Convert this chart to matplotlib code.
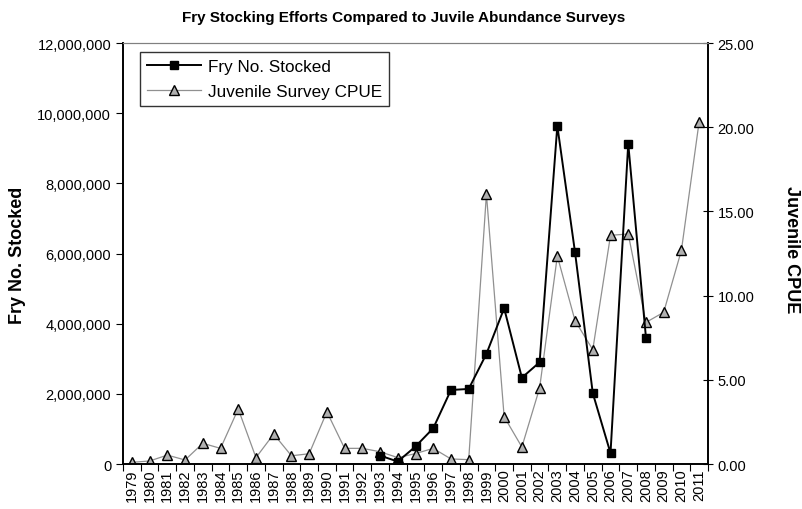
import numpy as np
import matplotlib.pyplot as plt
from matplotlib.ticker import FuncFormatter, FixedLocator

plt.rcParams['font.family'] = ['Liberation Sans', 'DejaVu Sans']

years = list(range(1979, 2012))

# fry stocked, only 1993-2008
fry_years = list(range(1993, 2009))
fry_stocked = [240000, 70000, 500000, 1020000, 2110000, 2140000, 3140000, 4440000,
               2460000, 2900000, 9640000, 6030000, 2020000, 310000, 9130000, 3600000]

cpue = [0.10, 0.18, 0.53, 0.24, 1.23, 0.93, 3.27, 0.38, 1.78, 0.49, 0.61, 3.10,
        0.93, 0.93, 0.73, 0.38, 0.62, 0.93, 0.30, 0.26, 16.03, 2.81, 1.01, 4.51,
        12.35, 8.51, 6.79, 13.58, 13.66, 8.41, 9.01, 12.69, 20.33]

x_all = np.arange(len(years))
x_fry = np.array([years.index(y) for y in fry_years])

fig = plt.figure(figsize=(8.03, 5.10), dpi=100)
ax = fig.add_axes([0.1532, 0.0882, 0.7285, 0.8255])
ax2 = ax.twinx()

l1, = ax.plot(x_fry, fry_stocked, color='black', lw=1.4, marker='s', ms=6,
              mfc='black', mec='black', label='Fry No. Stocked', zorder=3)
l2, = ax2.plot(x_all, cpue, color='#909090', lw=0.9, marker='^', ms=7,
               mfc='#b0b0b0', mec='black', mew=1.0, label='Juvenile Survey CPUE', zorder=2)
ax.set_zorder(ax2.get_zorder() + 1)
ax.patch.set_visible(False)

ax.set_xlim(-0.5, len(years) - 0.5)
ax.set_ylim(0, 12000000)
ax2.set_ylim(0, 25)
ax.set_yticks(np.arange(0, 12000001, 2000000))
ax.yaxis.set_major_formatter(FuncFormatter(lambda v, p: f'{int(v):,}'))
ax2.set_yticks(np.arange(0, 25.01, 5))
ax2.yaxis.set_major_formatter(FuncFormatter(lambda v, p: f'{v:.2f}'))

ax.xaxis.set_major_locator(FixedLocator(np.arange(-0.5, len(years), 1)))
ax.xaxis.set_major_formatter(FuncFormatter(lambda v, p: ''))
ax.xaxis.set_minor_locator(FixedLocator(x_all))
ax.set_xticklabels([str(y) for y in years], minor=True, rotation=90, fontsize=10.5)
ax.tick_params(axis='x', which='minor', length=0, pad=3)
ax.tick_params(axis='x', which='major', direction='out', length=5)
ax.tick_params(axis='y', direction='out', length=5, labelsize=10.5)
ax2.tick_params(axis='y', direction='inout', length=7, labelsize=10.5)

for a in (ax, ax2):
    a.spines['top'].set_color('#808080')
    a.spines['top'].set_linewidth(0.8)
    a.spines['left'].set_linewidth(1.2)
    a.spines['right'].set_linewidth(1.2)
    a.spines['bottom'].set_linewidth(1.2)

fig.text(18 / 803, 1 - 255 / 510, 'Fry No. Stocked', fontsize=13, fontweight='bold',
         rotation=90, ha='center', va='center')
fig.text(792 / 803, 1 - 250 / 510, 'Juvenile CPUE', fontsize=13, fontweight='bold',
         rotation=270, ha='center', va='center')
fig.text(0.503, 1 - 18 / 510, 'Fry Stocking Efforts Compared to Juvile Abundance Surveys',
         fontsize=11, fontweight='bold', ha='center', va='center')

leg = ax.legend(handles=[l1, l2], loc='upper left', bbox_to_anchor=(0.029, 0.979),
                borderaxespad=0, fontsize=12.3, frameon=True, fancybox=False,
                edgecolor='black', borderpad=0.4, handlelength=3.2,
                labelspacing=0.6, handletextpad=0.4)
leg.get_frame().set_linewidth(1.0)

fig.savefig('out.png', dpi=100)
